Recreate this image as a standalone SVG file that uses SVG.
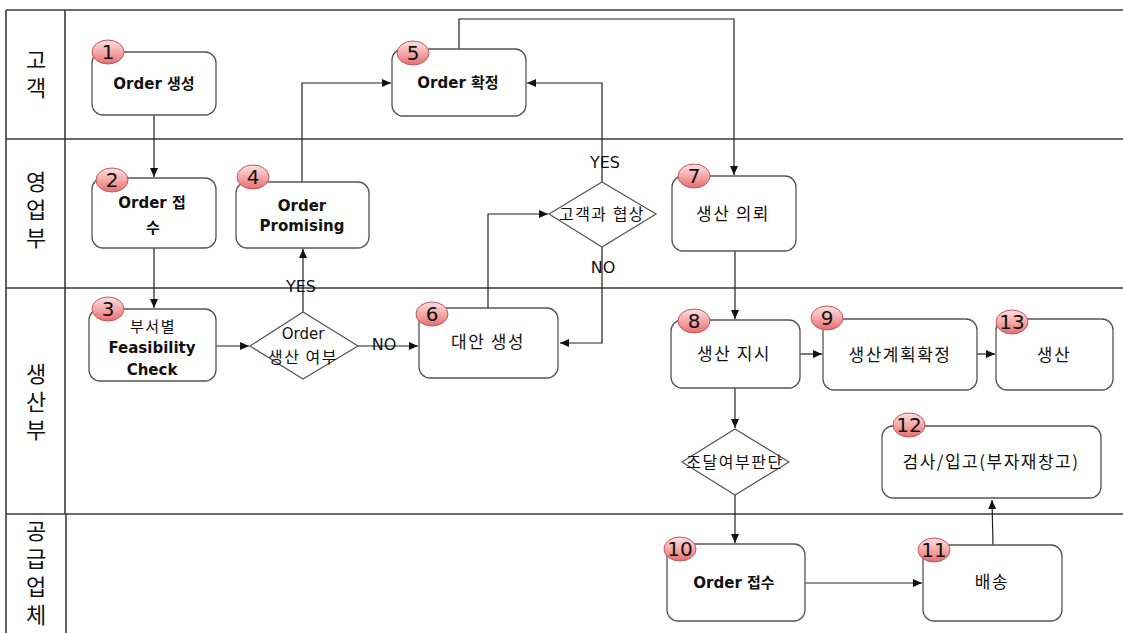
<svg xmlns="http://www.w3.org/2000/svg" width="1123" height="633" viewBox="0 0 1123 633">
  <defs>
    <style>
      .lane { stroke: #3a3a3a; stroke-width: 1.6; fill: none; }
      .lanelabel { font-family: "Noto Sans CJK KR", "DejaVu Sans", sans-serif; font-size: 22px; fill: #111; text-anchor: middle; writing-mode: vertical-rl; text-orientation: upright; letter-spacing: 6px; }
      .box { fill: #ffffff; stroke: #555; stroke-width: 1.3; }
      .dia { fill: #ffffff; stroke: #555; stroke-width: 1.2; }
      .t { font-family: "DejaVu Sans", "Noto Sans CJK KR", sans-serif; font-size: 15px; fill: #111; text-anchor: middle; }
      .tb { font-weight: bold; }
      .tk { font-family: "Noto Sans CJK KR", sans-serif; font-size: 17px; letter-spacing: 1.5px; fill: #111; text-anchor: middle; }
      .td { font-family: "Noto Sans CJK KR", sans-serif; font-size: 16px; letter-spacing: 1.5px; fill: #111; text-anchor: middle; }
      .lbl { font-family: "DejaVu Sans", sans-serif; font-size: 16px; fill: #111; text-anchor: middle; }
      .badge { fill: url(#badgeFill); stroke: #c4585c; stroke-width: 1; }
      .num { font-family: "DejaVu Sans", sans-serif; font-size: 20px; fill: #111; text-anchor: middle; }
      .conn { stroke: #222; stroke-width: 1.2; fill: none; }
    </style>
    <linearGradient id="badgeFill" x1="0" y1="0" x2="0" y2="1">
      <stop offset="0" stop-color="#fde2e2"/>
      <stop offset="0.55" stop-color="#f5a3a3"/>
      <stop offset="1" stop-color="#e66e70"/>
    </linearGradient>
    <marker id="arrow" markerUnits="userSpaceOnUse" markerWidth="10" markerHeight="10" refX="9" refY="5" orient="auto">
      <path d="M0,1 L9,5 L0,9 Z" fill="#111"/>
    </marker>
  </defs>

  <!-- swimlane grid -->
  <g id="lanes">
    <line class="lane" x1="6" y1="10" x2="1123" y2="10"/>
    <line class="lane" x1="6" y1="139" x2="1123" y2="139"/>
    <line class="lane" x1="6" y1="288" x2="1123" y2="288"/>
    <line class="lane" x1="6" y1="514" x2="1123" y2="514"/>
    <line class="lane" x1="6" y1="10" x2="6" y2="633"/>
    <line class="lane" x1="65" y1="10" x2="65" y2="514"/>
    <line class="lane" x1="66" y1="514" x2="66" y2="633"/>
    <text class="lanelabel" x="36" y="77">고객</text>
    <text class="lanelabel" x="36" y="213">영업부</text>
    <text class="lanelabel" x="36" y="405">생산부</text>
    <text class="lanelabel" x="36" y="576">공급업체</text>
  </g>

  <!-- connectors -->
  <g id="connectors">
    <path class="conn" d="M154,115 V177" marker-end="url(#arrow)"/>
    <path class="conn" d="M154,248 V308" marker-end="url(#arrow)"/>
    <path class="conn" d="M216,346 H249" marker-end="url(#arrow)"/>
    <path class="conn" d="M303,312 V249" marker-end="url(#arrow)"/>
    <path class="conn" d="M302,182 V83 H391" marker-end="url(#arrow)"/>
    <path class="conn" d="M459,49 V19 H734 V175" marker-end="url(#arrow)"/>
    <path class="conn" d="M358,346 H418" marker-end="url(#arrow)"/>
    <path class="conn" d="M488,308 V214 H548" marker-end="url(#arrow)"/>
    <path class="conn" d="M602,182 V83 H527" marker-end="url(#arrow)"/>
    <path class="conn" d="M602,247 V343 H560" marker-end="url(#arrow)"/>
    <path class="conn" d="M735,251 V319" marker-end="url(#arrow)"/>
    <path class="conn" d="M800,354 H822" marker-end="url(#arrow)"/>
    <path class="conn" d="M977,354 H995" marker-end="url(#arrow)"/>
    <path class="conn" d="M735,388 V428" marker-end="url(#arrow)"/>
    <path class="conn" d="M735,495 V543" marker-end="url(#arrow)"/>
    <path class="conn" d="M805,583 H922" marker-end="url(#arrow)"/>
    <path class="conn" d="M993,545 L992,500" marker-end="url(#arrow)"/>
    <text class="lbl" x="301" y="292">YES</text>
    <text class="lbl" x="384" y="350">NO</text>
    <text class="lbl" x="605" y="168">YES</text>
    <text class="lbl" x="603" y="273">NO</text>
  </g>

  <!-- 1 Order 생성 -->
  <g id="n1">
    <rect class="box" x="92" y="52" width="124" height="63" rx="11"/>
    <text class="t tb" x="154" y="89">Order 생성</text>
    <ellipse class="badge" cx="108" cy="52" rx="16" ry="12"/>
    <text class="num" x="108" y="59">1</text>
  </g>

  <!-- 2 Order 접수 -->
  <g id="n2">
    <rect class="box" x="92" y="178" width="124" height="70" rx="11"/>
    <text class="t tb" x="152" y="208">Order 접</text>
    <text class="t tb" x="153" y="233">수</text>
    <ellipse class="badge" cx="112" cy="180" rx="16" ry="12"/>
    <text class="num" x="112" y="187">2</text>
  </g>

  <!-- 3 부서별 Feasibility Check -->
  <g id="n3">
    <rect class="box" x="89" y="309" width="127" height="72" rx="11"/>
    <text class="t" x="153" y="332" font-size="16" letter-spacing="1.5">부서별</text>
    <text class="t tb" x="152" y="353">Feasibility</text>
    <text class="t tb" x="152" y="375">Check</text>
    <ellipse class="badge" cx="108" cy="309" rx="16" ry="12"/>
    <text class="num" x="108" y="316">3</text>
  </g>

  <!-- decision: Order 생산 여부 -->
  <g id="d1">
    <polygon class="dia" points="250,346 303,312 358,346 303,379"/>
    <text class="t" x="303" y="339" font-size="14">Order</text>
    <text class="td" x="303" y="363" font-size="14">생산 여부</text>
  </g>

  <!-- 4 Order Promising -->
  <g id="n4">
    <rect class="box" x="236" y="182" width="133" height="66" rx="11"/>
    <text class="t tb" x="302" y="211">Order</text>
    <text class="t tb" x="302" y="231">Promising</text>
    <ellipse class="badge" cx="253" cy="177" rx="16" ry="12"/>
    <text class="num" x="253" y="184">4</text>
  </g>

  <!-- 5 Order 확정 -->
  <g id="n5">
    <rect class="box" x="392" y="49" width="134" height="67" rx="11"/>
    <text class="t tb" x="458" y="88">Order 확정</text>
    <ellipse class="badge" cx="413" cy="53" rx="16" ry="12"/>
    <text class="num" x="413" y="60">5</text>
  </g>

  <!-- 6 대안 생성 -->
  <g id="n6">
    <rect class="box" x="419" y="308" width="139" height="70" rx="11"/>
    <text class="tk" x="488" y="348">대안 생성</text>
    <ellipse class="badge" cx="432" cy="314" rx="16" ry="12"/>
    <text class="num" x="432" y="321">6</text>
  </g>

  <!-- decision: 고객과 협상 -->
  <g id="d2">
    <polygon class="dia" points="549,214 602,182 656,214 602,247"/>
    <text class="td" x="602" y="220">고객과 협상</text>
  </g>

  <!-- 7 생산 의뢰 -->
  <g id="n7">
    <rect class="box" x="672" y="176" width="124" height="75" rx="11"/>
    <text class="tk" x="733" y="220">생산 의뢰</text>
    <ellipse class="badge" cx="694" cy="176" rx="16" ry="12"/>
    <text class="num" x="694" y="183">7</text>
  </g>

  <!-- 8 생산 지시 -->
  <g id="n8">
    <rect class="box" x="671" y="320" width="129" height="68" rx="11"/>
    <text class="tk" x="734" y="360">생산 지시</text>
    <ellipse class="badge" cx="694" cy="321" rx="16" ry="12"/>
    <text class="num" x="694" y="328">8</text>
  </g>

  <!-- 9 생산계획확정 -->
  <g id="n9">
    <rect class="box" x="823" y="319" width="154" height="71" rx="11"/>
    <text class="tk" x="900" y="361">생산계획확정</text>
    <ellipse class="badge" cx="827" cy="318" rx="16" ry="12"/>
    <text class="num" x="827" y="325">9</text>
  </g>

  <!-- 13 생산 -->
  <g id="n13">
    <rect class="box" x="996" y="319" width="117" height="71" rx="11"/>
    <text class="tk" x="1054" y="361">생산</text>
    <ellipse class="badge" cx="1012" cy="322" rx="16" ry="12"/>
    <text class="num" x="1012" y="329">13</text>
  </g>

  <!-- decision: 조달여부판단 -->
  <g id="d3">
    <polygon class="dia" points="682,462 735,429 789,462 735,495"/>
    <text class="td" x="735" y="468">조달여부판단</text>
  </g>

  <!-- 12 검사/입고(부자재창고) -->
  <g id="n12">
    <rect class="box" x="882" y="426" width="219" height="72" rx="11"/>
    <text class="tk" x="991" y="468" font-size="16" letter-spacing="1.2">검사/입고(부자재창고)</text>
    <ellipse class="badge" cx="909" cy="425" rx="16" ry="12"/>
    <text class="num" x="909" y="432">12</text>
  </g>

  <!-- 10 Order 접수 -->
  <g id="n10">
    <rect class="box" x="667" y="544" width="138" height="77" rx="11"/>
    <text class="t tb" x="734" y="588">Order 접수</text>
    <ellipse class="badge" cx="680" cy="549" rx="16" ry="12"/>
    <text class="num" x="680" y="556">10</text>
  </g>

  <!-- 11 배송 -->
  <g id="n11">
    <rect class="box" x="923" y="545" width="139" height="76" rx="11"/>
    <text class="tk" x="992" y="588">배송</text>
    <ellipse class="badge" cx="934" cy="550" rx="16" ry="12"/>
    <text class="num" x="934" y="557">11</text>
  </g>
</svg>
